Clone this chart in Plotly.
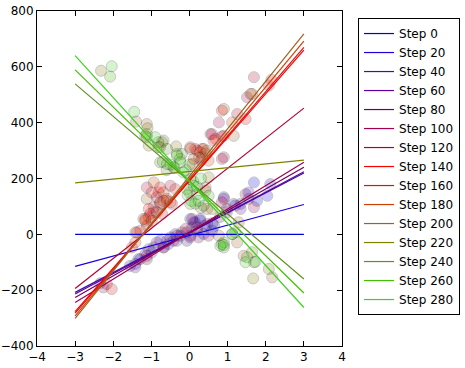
import plotly.graph_objects as go

steps = [0, 20, 40, 60, 80, 100, 120, 140, 160, 180, 200, 220, 240, 260, 280]
colors = ['#0000d8', '#2000e0', '#4010a0', '#6000a0', '#700060', '#a00050', '#b00030',
          '#ff0000', '#e01010', '#d04000', '#a06020', '#808000', '#609020', '#40c000', '#40d020']

# line values at x = -3 and x = 3
x_ends = [-3, 3]
line_left = [0, -115, -208, -214, -226, -244, -194, -277, -282, -292, -301, 184, 539, 589, 640]
line_right = [0, 107, 220, 224, 240, 258, 452, 660, 670, 692, 718, 266, -160, -210, -262]

# scatter samples per step
pts_x = {
    0: [1.69, 2.12, 0.28, -1.34, -0.5, 0.65, 1.34, 0.9, 1.77, -1.56, 0.37],
    20: [1.55, 0.15, -0.77, -1.42, 0.4, -2.34, 2.04, 1.16, -0.55, 0.02, 0.59],
    40: [1.2, 0.02, -0.33, -1.07, 0.6, -0.94, 1.55, 0.46, -0.99, -0.07],
    60: [0.98, 0.07, -0.37, -1.16, 0.8, -0.68, -1.42, 1.34, 0.28, -0.42, -1.29, 0.11],
    80: [1.47, 0.2, -0.24, -0.86, -0.07, -1.12, -0.59, 0.98, 0.07, -0.2, -0.68, 0.24],
    100: [0.9, 0.85, 0.5, -0.1, -2.26, 0.9, 0.77, 1.51, 0.85, 1.69, 0.2, -0.33, -1.12, 0.02],
    120: [0.55, 1.25, 1.69, -0.5, -0.94, -1.38, -2.17, 0.3, 0.59, -1.12, -0.86, -0.77, -0.94, 0.85],
    140: [0.85, 1.47, 2.15, 0.68, -0.81, -1.07, -1.51, 0.2, 0.15, -0.77, -0.59, -1.07, -1.16, 0.9],
    160: [0.33, 0.63, 2.08, -0.37, -0.59, -1.03, -1.12, -2.04, 0.08, 0.02, 0.33, -0.99, -0.46, -0.72, -1.29],
    180: [0.37, 0.42, -0.68, -0.77, -0.86, -1.16, -1.42, 1.12, 1.64, -1.21, 0.28, 0.5, -0.94, -0.68, -0.99, -1.42, 0.11],
    200: [0.9, 1.16, 1.6, 0.02, -1.40, -1.12, 0.25, 0.77, 1.25, 2.17, 0.46, 0.46, 0.42, -1.12, -0.5, 1.29, 1.42],
    220: [-2.32, -1.10, -1.07, -1.16, -0.35, 0.5, 0.59, 1.67, 2.08, 1.64, -0.72, -0.81, 0.42],
    240: [-0.68, -0.77, -0.82, 1.69, -0.6, 0.0, 0.3, 1.2, -0.4, -0.59, -0.2, -0.77, 0.37, 0.85],
    260: [-2.08, -1.12, -0.33, -0.7, -0.25, 0.1, 0.15, 0.9, 1.51, 1.12, -1.12, -0.33, -0.42, 0.02, -0.07, 0.02, 0.9],
    280: [-2.04, -1.45, -0.9, -0.5, -0.1, 0.0, 0.2, 0.3, 0.05, -0.05, 0.81, 0.9, 1.47, 1.73,
          -0.24, -0.16, 0.11, 0.2, 0.24, 0.5, -0.59, 1.12],
}
pts_y = {
    0: [186, 180, 55, -89, -11, 30, 109, 133, 120, -113, 1],
    20: [150, 43, -23, -106, 30, -175, 138, 109, -35, -5, 13],
    40: [103, 55, -23, -53, 40, -47, 127, 37, -65, -23],
    60: [79, 25, 1, -71, 62, -47, -118, 91, 49, -23, -89, 43],
    80: [144, 13, -5, -29, 7, -89, -23, 91, 55, 7, -47, -11],
    100: [127, 115, -5, 20, -190, 276, 401, 491, 351, 97, 25, -5, -77, -11],
    120: [359, 431, 563, 174, 97, 7, -178, 265, 359, 168, 133, 109, 79, 270],
    140: [443, 413, 554, 342, 150, 61, -47, 300, 306, 168, 127, 91, 55, 353],
    160: [306, 336, 533, 162, 120, 73, 31, -196, 252, 312, 276, 150, 109, 73, 13],
    180: [306, 290, 150, 115, 79, 49, -29, 401, 503, 55, 294, 264, 186, 120, 49, 7, 270],
    200: [449, 353, 503, 306, 404, 395, 275, -5, -29, -154, 91, 300, 168, 127, 115, 43, -77],
    220: [586, 380, 318, 353, 315, 204, 91, -158, -124, -64, 330, 312, 156],
    240: [336, 312, 330, -100, 230, 150, 95, 7, 240, 306, 288, 258, 103, -35],
    260: [565, 348, 288, 260, 270, 190, 110, -29, -82, 1, 359, 282, 240, 198, 162, 109, -47],
    280: [602, 439, 348, 250, 230, 250, 170, 200, 120, 140, -41, -38, -100, -98,
          258, 222, 174, 144, 120, 138, 252, 1],
}

fig = go.Figure()

for s, c in zip(steps, colors):
    fig.add_trace(go.Scatter(
        x=pts_x[s], y=pts_y[s], mode='markers', showlegend=False, hoverinfo='skip',
        marker=dict(size=11, color=c, opacity=0.22, line=dict(color='black', width=1)),
    ))

for s, c, l, r in zip(steps, colors, line_left, line_right):
    fig.add_trace(go.Scatter(
        x=x_ends, y=[l, r], mode='lines', name=f'Step {s}',
        line=dict(color=c, width=1.2),
    ))

axis_common = dict(
    showgrid=False, zeroline=False, showline=True, linecolor='black', linewidth=1,
    mirror='allticks', ticks='inside', ticklen=5, tickcolor='black', automargin=False,
    tickfont=dict(family='DejaVu Sans', size=12, color='black'),
)

fig.update_layout(
    width=465, height=368,
    margin=dict(l=37, r=123, t=11, b=22, autoexpand=False),
    paper_bgcolor='white', plot_bgcolor='white',
    font=dict(family='DejaVu Sans', size=12, color='black'),
    xaxis=dict(range=[-4, 4], dtick=1, **axis_common),
    yaxis=dict(range=[-400, 800], dtick=200, **axis_common),
    legend=dict(
        x=1.0525, y=0.979, xanchor='left', yanchor='top',
        bordercolor='black', borderwidth=1, bgcolor='white',
        font=dict(family='DejaVu Sans', size=12, color='black'),
        tracegroupgap=0, itemwidth=30,
    ),
)

fig.write_html('out.html', config={'displayModeBar': False},
               post_script="document.body.style.margin='0';")
